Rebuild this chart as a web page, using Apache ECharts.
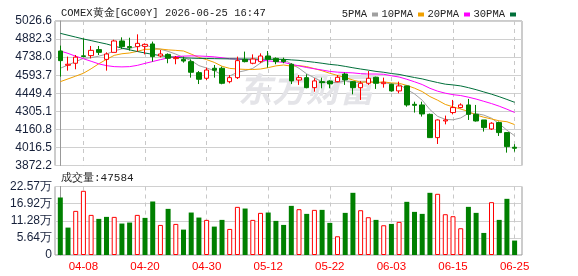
<!DOCTYPE html>
<html>
<head>
<meta charset="utf-8">
<script src="https://cdn.jsdelivr.net/npm/echarts@6/dist/echarts.min.js"></script>
<style>
  html, body { margin: 0; padding: 0; background: #fff; }
  #goldKline { width: 578px; height: 276px; }
</style>
</head>
<body>
<div id="goldKline"></div>
<script>
const dates = ['04-03', '04-06', '04-07', '04-08', '04-09', '04-10', '04-13', '04-14', '04-15', '04-16',
  '04-17', '04-20', '04-21', '04-22', '04-23', '04-24', '04-27', '04-28', '04-29', '04-30',
  '05-01', '05-04', '05-05', '05-06', '05-07', '05-08', '05-11', '05-12', '05-13', '05-14',
  '05-15', '05-18', '05-19', '05-20', '05-21', '05-22', '05-25', '05-26', '05-27', '05-28',
  '05-29', '06-01', '06-02', '06-03', '06-04', '06-05', '06-08', '06-09', '06-10', '06-11',
  '06-12', '06-15', '06-16', '06-17', '06-18', '06-19', '06-22', '06-23', '06-24', '06-25'];
const labelDates = ['04-08', '04-20', '04-30', '05-12', '05-22', '06-03', '06-15', '06-25'];

const open = [4787, 4673, 4689, 4748, 4750, 4798, 4720, 4776, 4867, 4822,
  4822, 4824, 4843, 4747, 4760, 4726, 4720, 4702, 4614, 4569,
  4649, 4649, 4542, 4574, 4720, 4689, 4702, 4747, 4728, 4718,
  4681, 4555, 4574, 4494, 4542, 4547, 4542, 4603, 4542, 4494,
  4529, 4577, 4526, 4521, 4468, 4508, 4361, 4356, 4281, 4095,
  4228, 4295, 4335, 4356, 4281, 4236, 4164, 4215, 4135, 4018];
const close = [4710, 4681, 4738, 4743, 4792, 4776, 4763, 4867, 4822, 4814,
  4848, 4840, 4742, 4763, 4729, 4734, 4707, 4617, 4561, 4635,
  4633, 4529, 4574, 4710, 4702, 4723, 4747, 4721, 4702, 4702,
  4548, 4574, 4494, 4548, 4534, 4524, 4577, 4556, 4494, 4529,
  4569, 4529, 4537, 4468, 4508, 4356, 4353, 4284, 4095, 4236,
  4236, 4335, 4356, 4281, 4228, 4175, 4210, 4135, 4023, 4010];
const low = [4582, 4630, 4641, 4736, 4728, 4755, 4630, 4776, 4803, 4790,
  4782, 4760, 4702, 4736, 4689, 4681, 4694, 4574, 4523, 4555,
  4574, 4521, 4529, 4563, 4696, 4681, 4690, 4654, 4681, 4689,
  4523, 4516, 4489, 4462, 4489, 4489, 4537, 4516, 4441, 4396,
  4516, 4484, 4494, 4462, 4449, 4342, 4295, 4263, 4092, 4044,
  4201, 4281, 4329, 4236, 4223, 4143, 4156, 4108, 3975, 3983];
const high = [4830, 4742, 4755, 4888, 4827, 4827, 4776, 4877, 4896, 4893,
  4920, 4848, 4862, 4795, 4768, 4747, 4742, 4720, 4627, 4654,
  4675, 4662, 4595, 4742, 4782, 4760, 4768, 4787, 4736, 4734,
  4689, 4595, 4601, 4569, 4574, 4553, 4595, 4614, 4547, 4547,
  4627, 4582, 4574, 4526, 4542, 4510, 4382, 4382, 4287, 4241,
  4271, 4396, 4369, 4404, 4356, 4236, 4218, 4223, 4138, 4042];

const ma5 = [4649, 4675, 4702, 4728, 4733, 4746, 4762, 4788, 4804, 4808,
  4823, 4838, 4813, 4801, 4784, 4762, 4735, 4710, 4670, 4651,
  4631, 4595, 4587, 4617, 4630, 4648, 4691, 4721, 4719, 4719,
  4684, 4649, 4604, 4573, 4540, 4535, 4535, 4548, 4537, 4536,
  4545, 4535, 4532, 4526, 4522, 4480, 4444, 4394, 4319, 4265,
  4241, 4237, 4252, 4289, 4287, 4275, 4250, 4206, 4154, 4110];
const ma10 = [4542, 4564, 4586, 4609, 4645, 4685, 4720, 4752, 4765, 4771,
  4784, 4800, 4801, 4803, 4796, 4792, 4787, 4762, 4736, 4718,
  4696, 4665, 4648, 4643, 4640, 4639, 4643, 4654, 4668, 4675,
  4666, 4670, 4662, 4646, 4629, 4609, 4592, 4576, 4555, 4538,
  4540, 4535, 4540, 4532, 4529, 4512, 4490, 4463, 4423, 4394,
  4360, 4341, 4323, 4304, 4276, 4258, 4244, 4229, 4222, 4199];
const ma20 = [4787, 4768, 4745, 4725, 4705, 4684, 4670, 4662, 4660, 4662,
  4672, 4688, 4703, 4718, 4732, 4742, 4746, 4748, 4747, 4744,
  4740, 4733, 4725, 4723, 4718, 4716, 4715, 4708, 4702, 4696,
  4681, 4668, 4655, 4645, 4635, 4624, 4618, 4615, 4612, 4606,
  4603, 4603, 4601, 4589, 4579, 4561, 4541, 4519, 4489, 4466,
  4450, 4438, 4431, 4418, 4403, 4385, 4367, 4346, 4322, 4296];
const ma30 = [4928, 4913, 4898, 4883, 4870, 4856, 4843, 4826, 4810, 4796,
  4783, 4771, 4760, 4750, 4742, 4736, 4732, 4730, 4728, 4727,
  4726, 4725, 4724, 4723, 4723, 4722, 4722, 4722, 4721, 4721,
  4716, 4712, 4704, 4697, 4689, 4680, 4674, 4664, 4653, 4643,
  4634, 4624, 4617, 4607, 4600, 4587, 4575, 4564, 4549, 4535,
  4522, 4516, 4508, 4494, 4478, 4460, 4442, 4422, 4400, 4377];

const volumes = [189500, 90300, 145400, 211500, 132200, 119000, 125600, 125600, 103600, 106900,
  132200, 122300, 176300, 99100, 152000, 102400, 83700, 139900, 123400, 115700,
  93600, 115700, 85900, 158600, 153100, 115700, 138800, 139900, 112400, 99100,
  161900, 150900, 135500, 148700, 148700, 105800, 61700, 138800, 204900, 147600,
  124500, 115700, 98000, 102400, 109100, 175200, 142100, 135500, 204900, 201600,
  134400, 127800, 88100, 158600, 138800, 72700, 174100, 115700, 185100, 47584];
// 1 = red hollow bar, 0 = green bar
const volUp = [0, 0, 1, 1, 1, 0, 0, 1, 0, 0,
  1, 0, 0, 1, 0, 1, 0, 0, 0, 1,
  0, 0, 1, 1, 0, 1, 1, 0, 0, 0,
  0, 1, 0, 1, 0, 0, 1, 0, 0, 1,
  1, 0, 1, 0, 1, 0, 0, 0, 0, 1,
  1, 1, 1, 0, 0, 0, 1, 0, 0, 0];

const priceMin = 3872.2;
const priceMax = 5026.6;
const priceStep = 144.3;
const volTicks = ['0', '5.64万', '11.28万', '16.92万', '22.57万'];
const volMax = 225700;

const RED = '#ff0000';
const GREEN = '#008000';
const labelIdx = labelDates.map(d => dates.indexOf(d));
const monoFont = '"Liberation Mono", "DejaVu Sans Mono", monospace';
const sansFont = '"Liberation Sans", Arial, sans-serif';

const chart = echarts.init(document.getElementById('goldKline'), null, { renderer: 'canvas' });

const xBase = {
  type: 'value',
  min: -0.69,
  max: 59.96,
  axisLine: { show: false },
  axisTick: { show: false, customValues: labelIdx },
  splitLine: {
    show: true,
    lineStyle: { color: '#c8c8c8', type: [4, 4] },
  },
};

const maLine = (name, data, color) => ({
  name,
  type: 'line',
  xAxisIndex: 0,
  yAxisIndex: 0,
  data: data.map((v, i) => [i, v]),
  showSymbol: false,
  symbol: 'none',
  lineStyle: { width: 1, color },
  itemStyle: { color },
  silent: true,
  z: 3,
});

const option = {
  animation: false,
  backgroundColor: '#fff',
  title: [
    {
      text: 'COMEX黄金[GC00Y] 2026-06-25 16:47',
      left: 56,
      top: 3,
      textStyle: { fontSize: 10.5, fontWeight: 'normal', color: '#222', fontFamily: monoFont },
    },
    {
      text: '成交量:' + volumes[volumes.length - 1],
      left: 56,
      top: 168,
      textStyle: { fontSize: 11, fontWeight: 'normal', color: '#222', fontFamily: monoFont },
    },
  ],
  legend: {
    right: 57,
    top: 4,
    align: 'right',
    itemWidth: 6,
    itemHeight: 4,
    itemGap: 3.5,
    icon: 'rect',
    textStyle: { fontSize: 10.5, color: '#222', fontFamily: monoFont },
    data: ['5PMA', '10PMA', '20PMA', '30PMA'],
  },
  graphic: [
    {
      type: 'text',
      left: 238,
      top: 72,
      z: 1,
      silent: true,
      style: {
        text: '东方财富',
        font: 'italic bold 34px "Noto Sans CJK SC"',
        fill: '#e4e4e8',
      },
    },
  ],
  grid: [
    { left: 55, right: 56, top: 21, height: 144.5, show: true, borderColor: '#999', borderWidth: 1, outerBoundsMode: 'none' },
    { left: 55, right: 56, top: 186.5, height: 68.5, show: true, borderColor: '#999', borderWidth: 1, outerBoundsMode: 'none' },
  ],
  xAxis: [
    Object.assign({}, xBase, {
      gridIndex: 0,
      axisLabel: { show: false, customValues: labelIdx },
    }),
    Object.assign({}, xBase, {
      gridIndex: 1,
      axisLabel: {
        show: true,
        customValues: labelIdx,
        formatter: v => dates[Math.round(v)],
        color: RED,
        fontSize: 11.5,
        fontFamily: sansFont,
        margin: 6,
      },
    }),
  ],
  yAxis: [
    {
      type: 'value',
      gridIndex: 0,
      min: priceMin,
      max: priceMax,
      interval: priceStep,
      axisLine: { show: true, lineStyle: { color: '#999' } },
      axisTick: { show: false },
      axisLabel: {
        formatter: v => v.toFixed(1),
        color: '#16203a',
        fontSize: 12,
        fontFamily: sansFont,
        margin: 3,
        showMinLabel: true,
        showMaxLabel: true,
      },
      splitLine: { lineStyle: { color: '#d0d0d0' } },
    },
    {
      type: 'value',
      gridIndex: 1,
      min: 0,
      max: volMax,
      interval: volMax / 4,
      axisLine: { show: true, lineStyle: { color: '#999' } },
      axisTick: { show: false },
      axisLabel: {
        formatter: v => volTicks[Math.round(v / (volMax / 4))],
        color: '#16203a',
        fontSize: 12,
        fontFamily: sansFont,
        margin: 3,
        showMinLabel: true,
        showMaxLabel: true,
      },
      splitLine: { lineStyle: { color: '#d0d0d0' } },
    },
  ],
  series: [
    {
      name: 'K',
      type: 'candlestick',
      xAxisIndex: 0,
      yAxisIndex: 0,
      barWidth: 5,
      data: dates.map((d, i) => [i, open[i], close[i], low[i], high[i]]),
      encode: { x: 0, y: [1, 2, 3, 4] },
      itemStyle: {
        color: '#fff',
        color0: GREEN,
        borderColor: RED,
        borderColor0: GREEN,
        borderWidth: 1,
      },
      z: 4,
    },
    maLine('5PMA', ma5, '#a0a0a0'),
    maLine('10PMA', ma10, '#f0a000'),
    maLine('20PMA', ma20, '#ff00ff'),
    maLine('30PMA', ma30, '#006f3a'),
    {
      name: '成交量',
      type: 'bar',
      xAxisIndex: 1,
      yAxisIndex: 1,
      barWidth: 5,
      data: volumes.map((v, i) => ({
        value: [i, v],
        itemStyle: volUp[i]
          ? { color: '#fff', borderColor: RED, borderWidth: 1 }
          : { color: GREEN, borderColor: GREEN, borderWidth: 0 },
      })),
      z: 4,
    },
  ],
};

chart.setOption(option);
</script>
</body>
</html>
